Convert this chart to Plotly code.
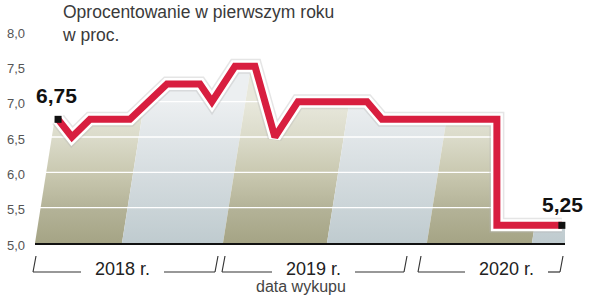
import plotly.graph_objects as go

# ---- data ----
# position along the time axis in months since Jan 2018 (fractional), and rate in %
offer_month = [1.48, 2.37, 3.53, 6.09, 8.47, 10.58, 11.35, 12.83, 14.11, 15.39, 16.87, 21.3, 22.26, 29.63, 29.63, 33.8]
rate = [6.75, 6.5, 6.75, 6.75, 7.25, 7.25, 7.0, 7.5, 7.5, 6.5, 7.0, 7.0, 6.75, 6.75, 5.25, 5.25]

y_ticks = [5.0, 5.5, 6.0, 6.5, 7.0, 7.5, 8.0]
y_tick_labels = ["5,0", "5,5", "6,0", "6,5", "7,0", "7,5", "8,0"]
grid_values = [5.5, 6.0, 6.5, 7.0, 7.5]

year_labels = ["2018 r.", "2019 r.", "2020 r."]
# background band boundaries (months) at the base of the chart
band_edges = [0.0, 5.58, 12.06, 18.73, 25.14, 31.88, 34.0]

title_text = "Oprocentowanie w pierwszym roku<br>w proc."
axis_title = "data wykupu"

# ---- geometry ----
W, H = 595, 296
ML, MR, MT, MB = 35, 30, 31, 53
PW, PH = W - ML - MR, H - MT - MB
XMIN, XMAX = 0.0, 34.0
YMIN, YMAX = 5.0, 8.0
SLANT = 0.72  # months shift per 1.0 of y

def px_x(p):
    return (p - ML) / PW

def px_y(p):
    return (H - MB - p) / PH

OLIVE = [[0, "#a5a485"], [0.25, "#b4b398"], [0.5, "#cac9b1"], [0.75, "#dbdbca"], [1, "#e8e8dc"]]
GREY = [[0, "#bfcbcf"], [0.5, "#d6dde0"], [1, "#eceff1"]]
RED = "#d81e3f"

fig = go.Figure()

# striped background bands with vertical gradient
for i in range(len(band_edges) - 1):
    b0, b1 = band_edges[i], band_edges[i + 1]
    t0 = min(b0 + SLANT * (YMAX - YMIN), XMAX)
    t1 = b1 + SLANT * (YMAX - YMIN) if i < len(band_edges) - 2 else b1
    t1 = min(t1, XMAX)
    cs = OLIVE if i % 2 == 0 else GREY
    fig.add_trace(go.Scatter(
        x=[b0, b1, t1, t0, b0], y=[YMIN, YMIN, YMAX, YMAX, YMIN],
        mode="lines", line=dict(width=0), fill="toself",
        fillgradient=dict(type="vertical", start=YMIN, stop=7.0, colorscale=cs),
        hoverinfo="skip", showlegend=False))

# white gridlines over the bands
for g in grid_values:
    fig.add_trace(go.Scatter(x=[XMIN, XMAX], y=[g, g], mode="lines",
                             line=dict(color="white", width=1.3),
                             hoverinfo="skip", showlegend=False))

# white cap above the line
cap_x = offer_month + [XMAX + 0.5, XMAX + 0.5, XMIN - 0.5, XMIN - 0.5, offer_month[0]]
cap_y = rate + [rate[-1], YMAX + 0.2, YMAX + 0.2, rate[0], rate[0]]
fig.add_trace(go.Scatter(x=cap_x, y=cap_y, mode="lines", line=dict(width=0),
                         fill="toself", fillcolor="white",
                         hoverinfo="skip", showlegend=False))

# soft shadow + white outline + red line
fig.add_trace(go.Scatter(x=offer_month, y=rate, mode="lines",
                         line=dict(color="rgba(180,180,180,0.35)", width=15),
                         hoverinfo="skip", showlegend=False))
fig.add_trace(go.Scatter(x=offer_month, y=rate, mode="lines",
                         line=dict(color="white", width=12),
                         hoverinfo="skip", showlegend=False))
fig.add_trace(go.Scatter(x=offer_month, y=rate, mode="lines",
                         line=dict(color=RED, width=7),
                         hoverinfo="skip", showlegend=False, cliponaxis=False))

# end markers
fig.add_trace(go.Scatter(x=[offer_month[0], offer_month[-1]], y=[rate[0], rate[-1]],
                         mode="markers", marker=dict(symbol="square", size=7, color="#111"),
                         hoverinfo="skip", showlegend=False, cliponaxis=False))

def fmt(v):
    return f"{v:.2f}".replace(".", ",")

annotations = [
    dict(x=offer_month[0], y=rate[0], xref="x", yref="y", text=fmt(rate[0]),
         showarrow=False, xanchor="center", yanchor="middle", xshift=-2, yshift=24,
         font=dict(family="Liberation Sans", size=21, color="#111", weight="bold")),
    dict(x=offer_month[-1], y=rate[-1], xref="x", yref="y", text=fmt(rate[-1]),
         showarrow=False, xanchor="center", yanchor="middle", xshift=1, yshift=21,
         font=dict(family="Liberation Sans", size=21, color="#111", weight="bold")),
    dict(x=px_x(60), y=px_y(0), xref="paper", yref="paper", text=title_text,
         showarrow=False, xanchor="left", yanchor="top", align="left",
         font=dict(family="Liberation Sans", size=17.5, color="#3a3a3a")),
    dict(x=px_x(301), y=px_y(296), xref="paper", yref="paper", text=axis_title,
         showarrow=False, xanchor="center", yanchor="bottom", borderpad=0,
         font=dict(family="Liberation Sans", size=16, color="#444")),
]

# year brackets (pixel layout)
brackets = [(33, 215, 122), (222, 404, 313), (418, 560, 506)]
shapes = []
LINE = dict(color="#333", width=1.2)
yb, yt = 272, 256
for (a, b, c), lab in zip(brackets, year_labels):
    shapes.append(dict(type="line", xref="paper", yref="paper",
                       x0=px_x(a), y0=px_y(yb), x1=px_x(a + 3), y1=px_y(yt), line=LINE))
    shapes.append(dict(type="line", xref="paper", yref="paper",
                       x0=px_x(a), y0=px_y(yb), x1=px_x(c - 41), y1=px_y(yb), line=LINE))
    shapes.append(dict(type="line", xref="paper", yref="paper",
                       x0=px_x(c + 42), y0=px_y(yb), x1=px_x(b), y1=px_y(yb), line=LINE))
    shapes.append(dict(type="line", xref="paper", yref="paper",
                       x0=px_x(b), y0=px_y(yb), x1=px_x(b + 3), y1=px_y(yt), line=LINE))
    annotations.append(dict(x=px_x(c), y=px_y(269), xref="paper", yref="paper", text=lab,
                            showarrow=False, xanchor="center", yanchor="middle",
                            font=dict(family="Liberation Sans", size=18, color="#222")))

fig.update_layout(
    width=W, height=H, margin=dict(l=ML, r=MR, t=MT, b=MB, autoexpand=False),
    paper_bgcolor="white", plot_bgcolor="white",
    showlegend=False, annotations=annotations, shapes=shapes,
    xaxis=dict(range=[XMIN, XMAX], showgrid=False, zeroline=False, showticklabels=False,
               ticks="", showline=True, linecolor="#111", linewidth=2, layer="above traces",
               fixedrange=True, automargin=False),
    yaxis=dict(range=[YMIN, YMAX], tickvals=y_ticks, ticktext=y_tick_labels,
               showgrid=False, zeroline=False, ticks="", showline=False,
               tickfont=dict(family="Liberation Sans", size=13, color="#555"),
               ticklabelstandoff=9, ticklabelshift=2, fixedrange=True, automargin=False),
)

fig.write_html("out.html")
